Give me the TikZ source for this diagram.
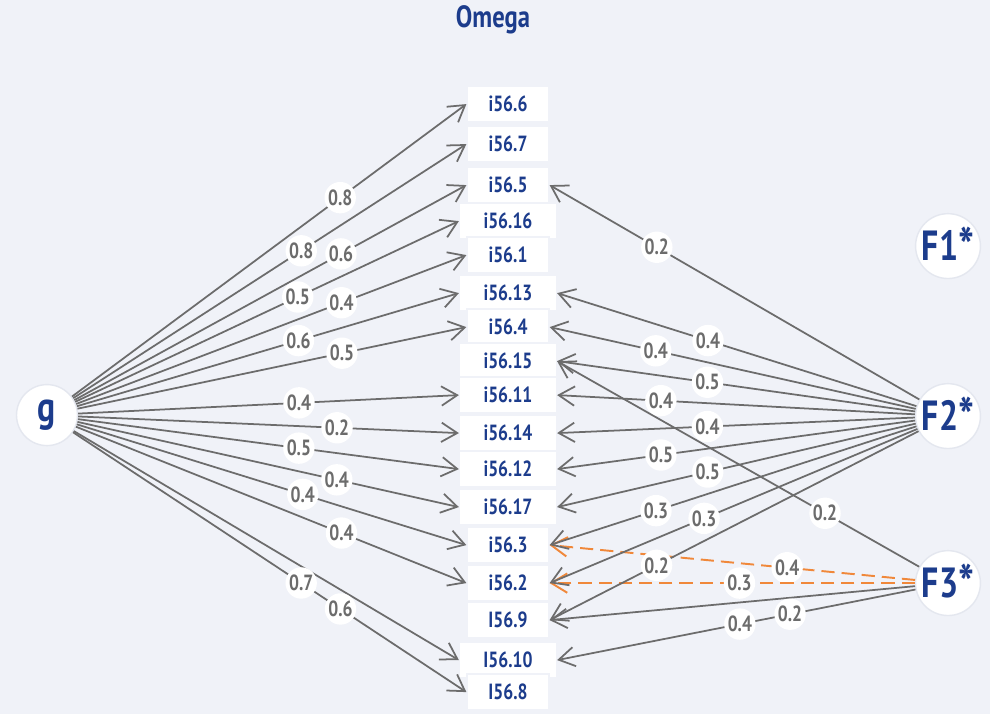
\documentclass[tikz,border=0pt]{standalone}
\usepackage{fontspec}
\setmainfont{PT Sans}[FakeStretch=0.8]
\usetikzlibrary{arrows.meta}
\usepackage{xcolor}
\definecolor{pagebg}{RGB}{240, 242, 248}
\definecolor{rim}{RGB}{228, 231, 239}
\definecolor{navy}{RGB}{28, 60, 140}
\definecolor{edgegray}{RGB}{108, 108, 108}
\definecolor{covorange}{RGB}{240, 136, 58}
\newcommand{\facstar}{\raisebox{-0.25ex}{\fontsize{30}{30}\selectfont*}}

\begin{document}
\begin{tikzpicture}[
  x=0.02cm, y=-0.02cm,
  latent/.style={
    circle, fill=white, draw=rim, line width=0.8pt,
    minimum size=1.22cm, inner sep=0pt,
    text=navy, font=\bfseries\fontsize{24}{24}\selectfont,
  },
  item/.style={
    rectangle, fill=white, draw=pagebg, line width=0.7pt,
    minimum width=1.64cm, minimum height=0.72cm, inner sep=0pt,
    text=navy, font=\bfseries\fontsize{12.5}{12.5}\selectfont,
  },
  itemw/.style={item, minimum width=1.94cm},
  wt/.style={
    circle, fill=white, inner sep=0.5pt, minimum size=0.6cm,
    text=edgegray, font=\bfseries\fontsize{12.5}{12.5}\selectfont,
  },
  arr/.style={-{Straight Barb[length=9pt,width=11pt]}, draw=edgegray, line width=1pt},
  cov/.style={arr, draw=covorange, line width=1.1pt, dash pattern=on 7.5pt off 4pt},
]
  \fill[pagebg] (0,0) rectangle (990,714);

  \node[text=navy, font=\bfseries\fontsize{17.5}{17.5}\selectfont] (title) at (493,20) {Omega};

  % indicators
  \node[item]  (i6)  at (508,104) {i56.6};
  \node[item]  (i7)  at (508,144) {i56.7};
  \node[item]  (i5)  at (508,185) {i56.5};
  \node[itemw] (i16) at (508,221) {i56.16};
  \node[item]  (i1)  at (508,255) {i56.1};
  \node[itemw] (i13) at (508,293) {i56.13};
  \node[item]  (i4)  at (508,327) {i56.4};
  \node[itemw] (i15) at (508,361) {i56.15};
  \node[itemw] (i11) at (508,395) {i56.11};
  \node[itemw] (i14) at (508,433) {i56.14};
  \node[itemw] (i12) at (508,469) {i56.12};
  \node[itemw] (i17) at (508,507) {i56.17};
  \node[item]  (i3)  at (508,545) {i56.3};
  \node[item]  (i2)  at (508,583) {i56.2};
  \node[item]  (i9)  at (508,620) {I56.9};
  \node[itemw] (i10) at (508,660) {I56.10};
  \node[item]  (i8)  at (508,692) {I56.8};

  % factors
  \node[latent] (g)  at (47,415)  {g};
  \node[latent] (f1) at (948,246) {F1\facstar};
  \node[latent] (f2) at (948,416) {F2\facstar};
  \node[latent] (f3) at (948,583) {F3\facstar};

  % general factor
  \draw[arr] (g) -- node[wt, pos=.68] {0.8} (i6.west);
  \draw[arr] (g) -- node[wt, pos=.58] {0.8} (i7.west);
  \draw[arr] (g) -- node[wt, pos=.68] {0.6} (i5.west);
  \draw[arr] (g) -- node[wt, pos=.58] {0.5} (i16.west);
  \draw[arr] (g) -- node[wt, pos=.68] {0.4} (i1.west);
  \draw[arr] (g) -- node[wt, pos=.58] {0.6} (i13.west);
  \draw[arr] (g) -- node[wt, pos=.68] {0.5} (i4.west);
  \draw[arr] (g) -- node[wt, pos=.58] {0.4} (i11.west);
  \draw[arr] (g) -- node[wt, pos=.68] {0.2} (i14.west);
  \draw[arr] (g) -- node[wt, pos=.58] {0.5} (i12.west);
  \draw[arr] (g) -- node[wt, pos=.68] {0.4} (i17.west);
  \draw[arr] (g) -- node[wt, pos=.58] {0.4} (i3.west);
  \draw[arr] (g) -- node[wt, pos=.68] {0.4} (i2.west);
  \draw[arr] (g) -- (i10.west);
  \draw[arr] (g) -- node[wt, pos=.58] {0.7} node[wt, pos=.68] {0.6} (i8.west);

  % F3* first so the F2* labels sit on top
  \draw[arr] (f3) -- node[wt, pos=.26] {0.2} (i15.east);
  \draw[cov] (f3) -- node[wt, pos=.35] {0.4} (i3.east);
  \draw[cov] (f3) -- node[wt, pos=.48] {0.3} (i2.east);
  \draw[arr] (f3) -- (i9.east);
  \draw[arr] (f3) -- node[wt, pos=.49] {0.4} node[wt, pos=.35] {0.2} (i10.east);

  \draw[arr] (f2) -- node[wt, pos=.71] {0.2} (i5.east);
  \draw[arr] (f2) -- node[wt, pos=.58] {0.4} (i13.east);
  \draw[arr] (f2) -- node[wt, pos=.71] {0.4} (i4.east);
  \draw[arr] (f2) -- node[wt, pos=.58] {0.5} (i15.east);
  \draw[arr] (f2) -- node[wt, pos=.71] {0.4} (i11.east);
  \draw[arr] (f2) -- node[wt, pos=.58] {0.4} (i14.east);
  \draw[arr] (f2) -- node[wt, pos=.71] {0.5} (i12.east);
  \draw[arr] (f2) -- node[wt, pos=.58] {0.5} (i17.east);
  \draw[arr] (f2) -- node[wt, pos=.71] {0.3} (i3.east);
  \draw[arr] (f2) -- node[wt, pos=.58] {0.3} (i2.east);
  \draw[arr] (f2) -- node[wt, pos=.71] {0.2} (i9.east);
\end{tikzpicture}
\end{document}
